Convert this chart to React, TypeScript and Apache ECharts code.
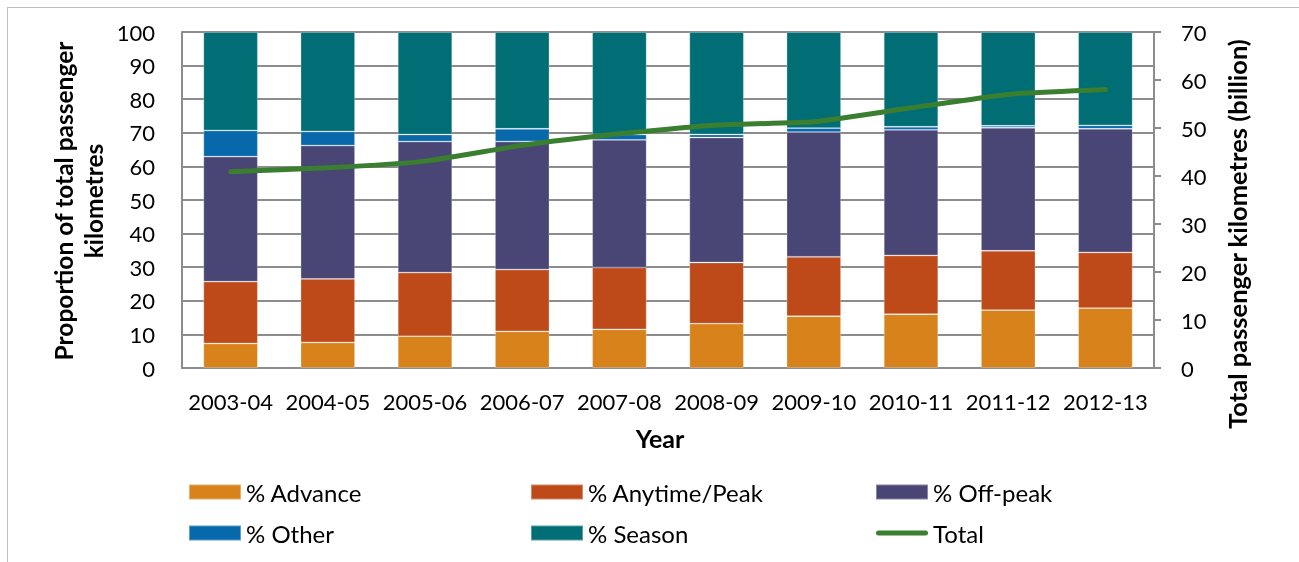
import React, { useEffect, useRef } from "react";
import * as echarts from "echarts";

// Rail passenger kilometres by ticket type (share, %) and total volume (billion km)
const years = ["2003-04", "2004-05", "2005-06", "2006-07", "2007-08", "2008-09", "2009-10", "2010-11", "2011-12", "2012-13"];
const advance = [7.3, 7.6, 9.5, 10.9, 11.5, 13.2, 15.4, 16.0, 17.2, 17.8];
const anytimePeak = [18.4, 18.9, 18.9, 18.4, 18.4, 18.2, 17.7, 17.5, 17.7, 16.6];
const offPeak = [37.2, 39.7, 39.0, 38.1, 38.0, 37.2, 37.1, 37.4, 36.6, 36.8];
const other = [7.8, 4.2, 2.1, 3.8, 1.6, 0.9, 1.2, 0.9, 0.6, 1.0];
const season = [29.3, 29.6, 30.5, 28.8, 30.5, 30.5, 28.6, 28.2, 27.9, 27.8];
const totalBillionKm = [40.9, 41.7, 43.1, 46.4, 48.8, 50.6, 51.3, 54.2, 57.0, 58.0];

const FONT = "Lato, 'Open Sans', sans-serif";
const GRID_GRAY = "#8c8c8c";
const LINE_ICON = "path://M2.5,0 L49.5,0 A2.5,2.5 0 0 1 49.5,5 L2.5,5 A2.5,2.5 0 0 1 2.5,0 Z";

export default function App() {
  const ref = useRef<HTMLDivElement>(null);

  useEffect(() => {
    if (!ref.current) return;
    const chart = echarts.init(ref.current, undefined, { renderer: "svg" });

    const barSeries = (name: string, data: number[], color: string) => ({
      name,
      type: "bar",
      stack: "share",
      data,
      barCategoryGap: "44%",
      itemStyle: { color, borderColor: "rgba(255,255,255,0.35)", borderWidth: 0.8 },
    });

    const legendBase = {
      orient: "vertical",
      itemWidth: 52,
      itemHeight: 15,
      itemGap: 17,
      padding: 0,
      top: 480,
      selectedMode: false,
      textStyle: { fontFamily: FONT, fontSize: 24, color: "#000" },
    };

    const title = (text: string, x: number, y: number, vertical: boolean, size: number) => ({
      type: "text",
      x,
      y,
      rotation: vertical ? Math.PI / 2 : 0,
      style: { text, fontFamily: FONT, fontSize: size, fontWeight: "bold", fill: "#000", align: "center", verticalAlign: "middle" },
    });

    chart.setOption({
      animation: false,
      textStyle: { fontFamily: FONT },
      grid: { left: 182, right: 145, top: 32, bottom: 194 },
      xAxis: {
        type: "category",
        data: years,
        axisLine: { lineStyle: { color: GRID_GRAY, width: 2 } },
        axisTick: { show: false },
        axisLabel: { fontSize: 22, color: "#000", margin: 22, interval: 0 },
      },
      yAxis: [
        {
          type: "value",
          min: 0,
          max: 100,
          interval: 10,
          axisLine: { show: true, lineStyle: { color: GRID_GRAY, width: 2 } },
          axisTick: { show: false },
          splitLine: { lineStyle: { color: GRID_GRAY, width: 2 } },
          axisLabel: { fontSize: 22, color: "#000", margin: 27 },
        },
        {
          type: "value",
          min: 0,
          max: 70,
          interval: 10,
          position: "right",
          axisLine: { show: true, lineStyle: { color: GRID_GRAY, width: 2 } },
          axisTick: { show: true, length: 7, lineStyle: { color: GRID_GRAY, width: 2 } },
          splitLine: { show: false },
          axisLabel: { fontSize: 22, color: "#000", margin: 27 },
        },
      ],
      legend: [
        { ...legendBase, left: 188, data: [{ name: "% Advance", icon: "rect" }, { name: "% Other", icon: "rect" }] },
        { ...legendBase, left: 530, data: [{ name: "% Anytime/Peak", icon: "rect" }, { name: "% Season", icon: "rect" }] },
        { ...legendBase, left: 875, data: [{ name: "% Off-peak", icon: "rect" }, { name: "Total", icon: LINE_ICON }] },
      ],
      graphic: [
        title("Proportion of total passenger", 63, 201, true, 24.5),
        title("kilometres", 93, 201, true, 24.5),
        title("Total passenger kilometres (billion)", 1237, 234, true, 25.5),
        title("Year", 660, 438, false, 25),
      ],
      series: [
        barSeries("% Advance", advance, "#D7821B"),
        barSeries("% Anytime/Peak", anytimePeak, "#BE4A19"),
        barSeries("% Off-peak", offPeak, "#494575"),
        barSeries("% Other", other, "#0769AC"),
        barSeries("% Season", season, "#016E75"),
        {
          name: "Total",
          type: "line",
          yAxisIndex: 1,
          data: totalBillionKm,
          symbol: "none",
          smooth: 0.15,
          lineStyle: { color: "#3A7E2F", width: 5, cap: "round", join: "round" },
          itemStyle: { color: "#3A7E2F" },
          z: 5,
        },
      ],
    });

    return () => chart.dispose();
  }, []);

  return (
    <>
      <div
        style={{
          position: "fixed",
          left: 7,
          top: 7,
          width: 1300,
          height: 560,
          border: "1px solid #BFBFBF",
          boxSizing: "border-box",
        }}
      />
      <div ref={ref} style={{ position: "fixed", left: 0, top: 0, width: 1299, height: 562 }} />
    </>
  );
}
